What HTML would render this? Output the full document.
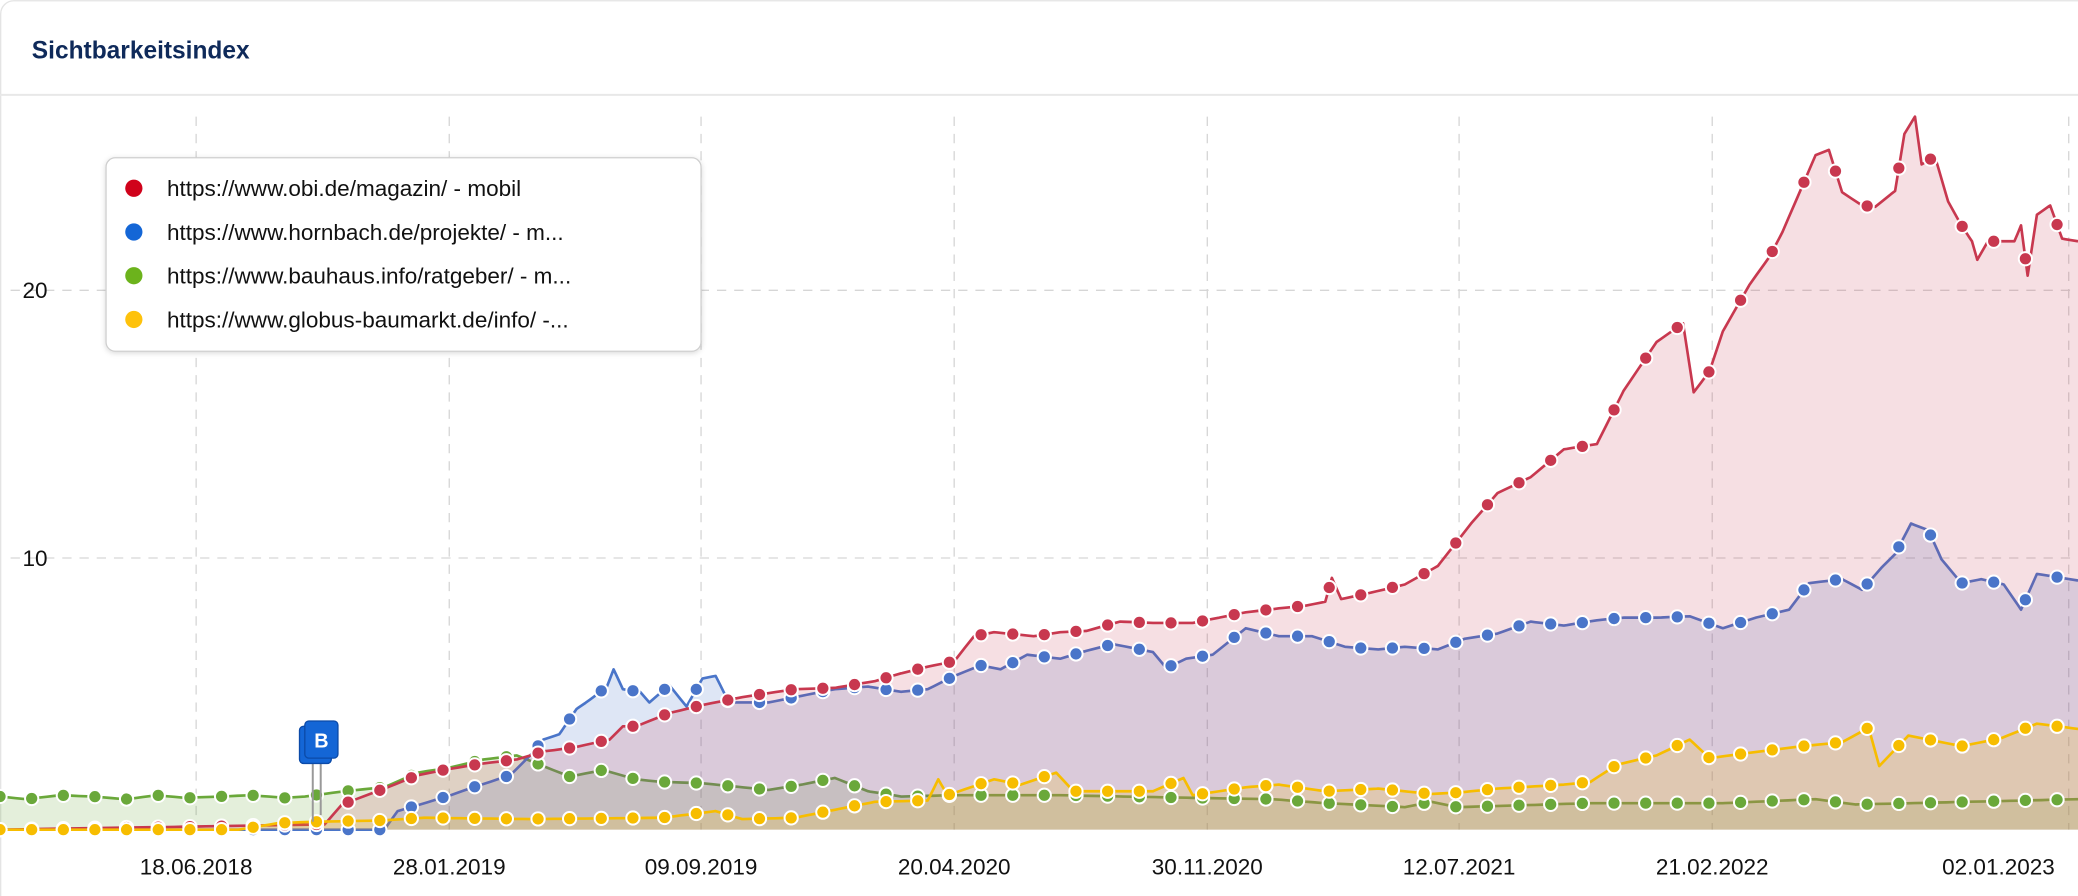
<!DOCTYPE html>
<html><head><meta charset="utf-8"><style>
html,body{margin:0;padding:0;background:#fff;}
svg{display:block;}
text{font-family:"Liberation Sans",Arial,sans-serif;}
</style></head><body>
<svg id="s" width="2078" height="896" viewBox="0 0 1568 676" xmlns="http://www.w3.org/2000/svg">
<defs>
<clipPath id="cp"><rect x="0" y="72" width="1568" height="556"/></clipPath>
<filter id="sh" x="-10%" y="-10%" width="120%" height="130%"><feDropShadow dx="0" dy="1" stdDeviation="2" flood-color="#000" flood-opacity="0.15"/></filter>
</defs>
<rect x="0.5" y="0.5" width="1580" height="690" rx="10" fill="#fff" stroke="#e4e4e4"/>
<text x="24" y="44" font-size="18.5" font-weight="bold" fill="#0f2a5a">Sichtbarkeitsindex</text>
<line x1="0" y1="71.5" x2="1568" y2="71.5" stroke="#e8e8e8" stroke-width="1.5"/>
<g stroke="#d6d6d6" stroke-dasharray="7,6" stroke-width="1">
<line x1="148" y1="88" x2="148" y2="626"/><line x1="339" y1="88" x2="339" y2="626"/>
<line x1="529" y1="88" x2="529" y2="626"/><line x1="720" y1="88" x2="720" y2="626"/>
<line x1="911" y1="88" x2="911" y2="626"/><line x1="1101" y1="88" x2="1101" y2="626"/>
<line x1="1292" y1="88" x2="1292" y2="626"/><line x1="1561" y1="88" x2="1561" y2="626"/>
<line x1="8" y1="219" x2="1568" y2="219"/><line x1="8" y1="421" x2="1568" y2="421"/>
</g>
<text x="17" y="225" font-size="17" fill="#111">20</text>
<text x="17" y="427" font-size="17" fill="#111">10</text>
<g font-size="17" fill="#111" text-anchor="middle">
<text x="148" y="660">18.06.2018</text><text x="339" y="660">28.01.2019</text>
<text x="529" y="660">09.09.2019</text><text x="720" y="660">20.04.2020</text>
<text x="911" y="660">30.11.2020</text><text x="1101" y="660">12.07.2021</text>
<text x="1292" y="660">21.02.2022</text><text x="1508" y="660">02.01.2023</text>
</g>
<g id="series" clip-path="url(#cp)"></g>
<g id="marks"></g>
<g>
<line x1="236" y1="575" x2="236" y2="620" stroke="#999" stroke-width="1.5"/>
<line x1="242" y1="570" x2="242" y2="615" stroke="#999" stroke-width="1.5"/>
<rect x="226" y="548" width="24" height="28" rx="3" fill="#1466d6" stroke="#0b4aa8"/>
<rect x="230" y="544" width="25" height="28" rx="3" fill="#1466d6" stroke="#0b4aa8"/>
<text x="242.5" y="564" font-size="15" font-weight="bold" fill="#fff" text-anchor="middle">B</text>
</g>
<g filter="url(#sh)"><rect x="80" y="119" width="449" height="146" rx="7" fill="#fff" stroke="#cfcfcf"/></g>
<g font-size="17" fill="#111">
<circle cx="101" cy="142" r="6.5" fill="#d0021b"/><text x="126" y="148">https://www.obi.de/magazin/ - mobil</text>
<circle cx="101" cy="175" r="6.5" fill="#1466d6"/><text x="126" y="181">https://www.hornbach.de/projekte/ - m...</text>
<circle cx="101" cy="208" r="6.5" fill="#6cb31c"/><text x="126" y="214">https://www.bauhaus.info/ratgeber/ - m...</text>
<circle cx="101" cy="241" r="6.5" fill="#fec20c"/><text x="126" y="247">https://www.globus-baumarkt.de/info/ -...</text>
</g>
</svg>
<script>
var S=[
{c:"#6aa83a",f:"rgba(106,168,58,0.18)",p:[[0,601],[20,603],[45,600],[70,601],[95,603],[118,600],[140,602],[165,601],[190,600],[215,602],[230,601],[260,597],[290,594],[315,583],[340,579],[365,573],[390,570],[400,574],[410,578],[430,586],[455,581],[480,588],[500,590],[530,591],[580,596],[605,592],[630,587],[655,597],[680,601],[720,600],[800,600],[900,602],[960,603],[1000,606],[1060,609],[1080,605],[1100,609],[1200,606],[1300,606],[1370,603],[1400,607],[1568,603]]},
{c:"#4a75c9",f:"rgba(74,117,201,0.18)",p:[[0,626],[290,626],[300,612],[317,607],[340,600],[360,593],[385,585],[400,570],[410,558],[422,554],[435,535],[445,528],[458,518],[463,505],[470,520],[483,522],[490,530],[505,517],[518,533],[530,512],[540,510],[550,530],[580,530],[605,525],[630,520],[655,518],[680,522],[700,520],[720,510],[740,502],[755,505],[775,494],[800,497],[820,491],[840,486],[870,492],[880,504],[895,497],[915,494],[940,474],[965,480],[990,480],[1015,488],[1040,490],[1060,488],[1085,490],[1105,482],[1130,478],[1155,469],[1180,472],[1205,468],[1225,466],[1250,466],[1275,465],[1300,474],[1325,466],[1350,460],[1365,440],[1390,437],[1405,445],[1420,428],[1430,418],[1442,395],[1455,400],[1465,422],[1480,440],[1495,437],[1512,441],[1525,460],[1537,433],[1550,435],[1568,438]]},
{c:"#c8384f",f:"rgba(200,56,79,0.16)",p:[[0,626],[245,622],[258,607],[290,595],[315,585],[340,580],[365,576],[390,573],[410,567],[433,564],[460,558],[470,548],[480,548],[505,538],[530,532],[560,526],[600,520],[630,519],[660,514],[680,508],[700,503],[720,499],[735,480],[750,477],[780,480],[800,477],[820,476],[845,469],[870,470],[900,470],[920,466],[940,462],[965,459],[985,457],[1000,454],[1005,436],[1012,452],[1035,447],[1060,441],[1085,427],[1110,395],[1130,372],[1155,360],[1180,339],[1205,335],[1225,295],[1250,258],[1270,244],[1278,296],[1290,280],[1300,250],[1320,215],[1335,194],[1345,175],[1370,117],[1380,113],[1390,145],[1405,155],[1415,156],[1425,148],[1430,144],[1437,101],[1445,88],[1450,124],[1460,118],[1470,152],[1480,170],[1488,182],[1492,196],[1500,182],[1520,182],[1525,170],[1530,208],[1537,162],[1547,155],[1556,180],[1568,182]]},
{c:"#f7bd00",f:"rgba(252,194,0,0.18)",p:[[0,626],[180,626],[210,621],[240,620],[290,619],[320,617],[400,618],[500,617],[540,612],[560,618],[600,617],[630,611],[660,605],[700,604],[708,588],[715,600],[750,588],[770,592],[797,583],[810,597],[840,597],[870,597],[893,587],[900,600],[940,594],[965,592],[1000,597],[1040,595],[1080,599],[1100,598],[1130,595],[1180,592],[1200,590],[1220,577],[1250,570],[1275,558],[1290,572],[1320,568],[1360,563],[1390,560],[1410,549],[1418,578],[1440,555],[1480,563],[1510,557],[1537,546],[1568,550]]}
];
function interp(p,x){for(var i=1;i<p.length;i++){if(x<=p[i][0]){var a=p[i-1],b=p[i];var t=(x-a[0])/(b[0]-a[0]||1);return a[1]+t*(b[1]-a[1]);}}return p[p.length-1][1];}
var NS="http://www.w3.org/2000/svg",g=document.getElementById("series"),m=document.getElementById("marks");
var order=[2,1,0,3];
S.forEach(function(s){
 var xs=[];for(var x=0;x<=1568;x+=5.97)xs.push(x);xs.push(1568);
 var pts=[];s.p.forEach(function(q){pts.push([q[0],q[1]]);});
 var all=xs.map(function(x){return[x,interp(pts,x)];});
 // merge control points for sharp peaks
 s.p.forEach(function(q){all.push(q);});all.sort(function(a,b){return a[0]-b[0];});
 var d=all.map(function(q,i){return(i?"L":"M")+q[0].toFixed(1)+","+q[1].toFixed(1);}).join("");
 var a=document.createElementNS(NS,"path");a.setAttribute("d",d+"L1568,626L0,626Z");a.setAttribute("fill",s.f);g.appendChild(a);
 var l=document.createElementNS(NS,"path");l.setAttribute("d",d);l.setAttribute("fill","none");l.setAttribute("stroke",s.c);l.setAttribute("stroke-width","2");l.setAttribute("stroke-linejoin","round");g.appendChild(l);
 for(var i=0;i<xs.length;i+=4){var x=xs[i];if(x>1562)break;var c=document.createElementNS(NS,"circle");c.setAttribute("cx",x.toFixed(1));c.setAttribute("cy",interp(pts,x).toFixed(1));c.setAttribute("r","5");c.setAttribute("fill",s.c);c.setAttribute("stroke","#fff");c.setAttribute("stroke-width","1.5");m.appendChild(c);}
});
</script>
</body></html>
